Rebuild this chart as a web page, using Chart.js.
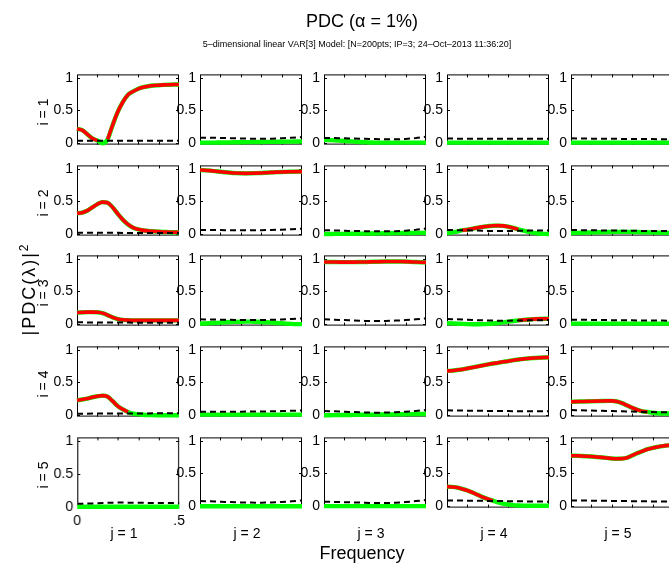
<!DOCTYPE html>
<html>
<head>
<meta charset="utf-8">
<script src="https://cdn.jsdelivr.net/npm/chart.js@4.4.0/dist/chart.umd.min.js"></script>
<style>
  body { margin: 0; width: 669px; height: 563px; overflow: hidden; background: #fff;
         font-family: "Liberation Sans", Arial, Helvetica, sans-serif; position: relative; }
  canvas { position: absolute; }
  .lbl { position: absolute; white-space: nowrap; color: #000; transform: translate(-50%, -50%); line-height: 1; }
  .rot { transform: translate(-50%, -50%) rotate(-90deg); }
</style>
</head>
<body>
<script>
// frequency grid (normalized, 0 .. 0.5)
const freq = [0, .025, .05, .075, .1, .125, .15, .175, .2, .225, .25, .275, .3, .325, .35, .375, .4, .425, .45, .475, .5];

// |PDC|^2 per row i (target), each row holds j = 1..5
const pdcRow1 = [
  [0.22,0.20,0.14,0.075,0.042,0.0,0.06,0.28,0.48,0.63,0.74,0.79,0.83,0.855,0.87,0.88,0.885,0.89,0.893,0.895,0.897],
  [0.01,0.01,0.01,0.01,0.012,0.013,0.014,0.015,0.016,0.017,0.018,0.019,0.02,0.021,0.022,0.023,0.024,0.025,0.026,0.027,0.028],
  [0.05,0.048,0.045,0.04,0.035,0.03,0.025,0.02,0.016,0.013,0.01,0.01,0.01,0.01,0.01,0.01,0.01,0.01,0.01,0.01,0.01],
  [0.01,0.01,0.01,0.01,0.01,0.01,0.01,0.01,0.01,0.01,0.01,0.01,0.01,0.01,0.01,0.01,0.01,0.01,0.01,0.01,0.01],
  [0.01,0.01,0.01,0.01,0.01,0.01,0.01,0.01,0.01,0.01,0.01,0.01,0.01,0.01,0.01,0.01,0.01,0.01,0.01,0.01,0.01]
];
const pdcRow2 = [
  [0.32,0.33,0.36,0.41,0.46,0.49,0.48,0.41,0.31,0.22,0.15,0.10,0.075,0.06,0.05,0.045,0.04,0.035,0.033,0.03,0.03],
  [0.98,0.975,0.97,0.962,0.953,0.945,0.938,0.933,0.93,0.929,0.93,0.932,0.935,0.939,0.943,0.947,0.95,0.952,0.954,0.955,0.955],
  [0.005,0.005,0.006,0.006,0.007,0.008,0.009,0.01,0.011,0.012,0.013,0.014,0.015,0.016,0.017,0.018,0.019,0.02,0.021,0.022,0.023],
  [0.02,0.028,0.04,0.063,0.07,0.086,0.10,0.113,0.123,0.13,0.132,0.128,0.115,0.097,0.075,0.055,0.037,0.022,0.012,0.006,0.003],
  [0.02,0.022,0.024,0.026,0.028,0.03,0.032,0.034,0.036,0.037,0.038,0.037,0.036,0.034,0.032,0.03,0.028,0.026,0.024,0.022,0.02]
];
const pdcRow3 = [
  [0.18,0.182,0.185,0.186,0.183,0.17,0.14,0.105,0.08,0.068,0.063,0.06,0.06,0.06,0.06,0.06,0.06,0.06,0.06,0.06,0.06],
  [0.01,0.013,0.017,0.021,0.025,0.03,0.034,0.037,0.039,0.04,0.04,0.038,0.035,0.03,0.025,0.02,0.015,0.01,0.006,0.003,0.002],
  [0.95,0.95,0.949,0.948,0.948,0.948,0.948,0.949,0.95,0.951,0.953,0.955,0.957,0.958,0.958,0.957,0.955,0.952,0.949,0.946,0.943],
  [0.018,0.014,0.01,0.006,0.003,0.001,0.0,0.002,0.006,0.012,0.02,0.03,0.04,0.05,0.06,0.068,0.074,0.079,0.082,0.084,0.085],
  [0.01,0.01,0.01,0.01,0.01,0.01,0.01,0.01,0.01,0.01,0.01,0.01,0.01,0.01,0.01,0.01,0.01,0.01,0.01,0.01,0.01]
];
const pdcRow4 = [
  [0.23,0.24,0.255,0.275,0.29,0.30,0.285,0.215,0.14,0.09,0.05,0.025,0.015,0.008,0.004,0.002,0.001,0,0,0,0],
  [0.01,0.01,0.01,0.01,0.01,0.01,0.01,0.01,0.01,0.01,0.01,0.01,0.01,0.01,0.01,0.01,0.01,0.01,0.01,0.01,0.01],
  [0,0.001,0.002,0.003,0.004,0.005,0.006,0.007,0.008,0.009,0.01,0.011,0.012,0.013,0.014,0.015,0.016,0.017,0.018,0.019,0.02],
  [0.675,0.68,0.69,0.70,0.715,0.73,0.745,0.76,0.775,0.79,0.80,0.815,0.825,0.84,0.85,0.86,0.867,0.873,0.878,0.88,0.882],
  [0.207,0.208,0.21,0.212,0.214,0.216,0.218,0.22,0.22,0.21,0.185,0.15,0.115,0.085,0.06,0.052,0.038,0.03,0.028,0.027,0.027]
];
const pdcRow5 = [
  [0,0,0,0,0,0,0,0,0,0,0,0,0,0,0,0,0,0,0,0,0],
  [0,0,0,0,0,0,0,0,0,0,0,0,0,0,0,0,0,0,0,0,0],
  [0.003,0.003,0.003,0.003,0.003,0.003,0.003,0.003,0.003,0.003,0.003,0.003,0.003,0.003,0.003,0.003,0.003,0.003,0.003,0.003,0.003],
  [0.30,0.295,0.285,0.265,0.24,0.21,0.175,0.14,0.11,0.085,0.06,0.04,0.027,0.018,0.013,0.01,0.009,0.009,0.009,0.009,0.009],
  [0.77,0.77,0.767,0.763,0.758,0.752,0.745,0.737,0.729,0.725,0.727,0.74,0.775,0.81,0.84,0.87,0.89,0.905,0.918,0.928,0.935]
];

// asymptotic threshold (alpha = 1%), dashed line
const thrRow1 = [
  [0.04,0.04,0.04,0.04,0.04,0.04,0.04,0.04,0.04,0.04,0.04,0.04,0.04,0.04,0.04,0.04,0.04,0.04,0.04,0.04,0.04],
  [0.085,0.085,0.084,0.083,0.082,0.08,0.078,0.076,0.074,0.072,0.07,0.07,0.07,0.07,0.071,0.073,0.076,0.08,0.085,0.09,0.095],
  [0.08,0.08,0.079,0.078,0.076,0.074,0.072,0.07,0.068,0.066,0.064,0.062,0.06,0.06,0.06,0.062,0.066,0.072,0.08,0.09,0.1],
  [0.072,0.072,0.071,0.07,0.07,0.07,0.07,0.07,0.07,0.07,0.07,0.07,0.07,0.07,0.07,0.07,0.07,0.07,0.07,0.071,0.071],
  [0.075,0.074,0.073,0.072,0.071,0.07,0.07,0.069,0.068,0.068,0.067,0.066,0.066,0.065,0.065,0.064,0.064,0.063,0.063,0.062,0.062]
];
const thrRow2 = [
  [0.025,0.025,0.024,0.024,0.023,0.023,0.022,0.022,0.022,0.021,0.021,0.021,0.02,0.02,0.02,0.02,0.02,0.02,0.02,0.02,0.02],
  [0.065,0.065,0.065,0.064,0.064,0.063,0.063,0.063,0.062,0.062,0.062,0.062,0.063,0.064,0.066,0.068,0.071,0.074,0.078,0.082,0.085],
  [0.062,0.06,0.058,0.056,0.054,0.052,0.05,0.049,0.048,0.047,0.046,0.045,0.045,0.045,0.046,0.05,0.055,0.062,0.07,0.08,0.09],
  [0.065,0.064,0.063,0.062,0.06,0.058,0.056,0.054,0.052,0.051,0.05,0.05,0.051,0.052,0.054,0.055,0.056,0.057,0.058,0.059,0.06],
  [0.065,0.064,0.063,0.062,0.061,0.06,0.059,0.058,0.057,0.056,0.055,0.054,0.053,0.052,0.052,0.051,0.05,0.05,0.05,0.05,0.05]
];
const thrRow3 = [
  [0.03,0.03,0.029,0.029,0.028,0.028,0.027,0.027,0.026,0.026,0.026,0.025,0.025,0.025,0.025,0.025,0.025,0.025,0.025,0.025,0.025],
  [0.075,0.074,0.073,0.072,0.07,0.069,0.068,0.067,0.066,0.065,0.065,0.065,0.065,0.066,0.068,0.07,0.073,0.077,0.081,0.085,0.09],
  [0.075,0.073,0.07,0.067,0.064,0.06,0.057,0.054,0.052,0.05,0.05,0.05,0.051,0.053,0.056,0.06,0.065,0.07,0.076,0.083,0.09],
  [0.08,0.078,0.075,0.072,0.069,0.066,0.063,0.06,0.058,0.056,0.055,0.055,0.055,0.056,0.057,0.058,0.06,0.061,0.062,0.063,0.065],
  [0.07,0.07,0.069,0.068,0.067,0.066,0.065,0.064,0.063,0.062,0.061,0.06,0.06,0.059,0.058,0.058,0.057,0.056,0.056,0.055,0.055]
];
const thrRow4 = [
  [0.025,0.025,0.025,0.026,0.026,0.026,0.027,0.027,0.027,0.028,0.028,0.028,0.029,0.029,0.029,0.03,0.03,0.03,0.03,0.03,0.03],
  [0.055,0.055,0.055,0.055,0.055,0.055,0.055,0.055,0.055,0.056,0.056,0.057,0.058,0.059,0.06,0.062,0.064,0.066,0.068,0.07,0.072],
  [0.065,0.063,0.061,0.058,0.055,0.052,0.049,0.046,0.043,0.041,0.04,0.04,0.041,0.043,0.046,0.05,0.055,0.06,0.066,0.073,0.08],
  [0.075,0.074,0.073,0.072,0.071,0.07,0.069,0.068,0.067,0.066,0.065,0.064,0.064,0.063,0.063,0.062,0.062,0.061,0.061,0.06,0.06],
  [0.08,0.078,0.076,0.074,0.072,0.07,0.068,0.066,0.064,0.062,0.06,0.058,0.056,0.054,0.052,0.05,0.049,0.048,0.047,0.046,0.045]
];
const thrRow5 = [
  [0.045,0.046,0.048,0.05,0.053,0.056,0.059,0.061,0.062,0.062,0.061,0.06,0.059,0.058,0.057,0.056,0.055,0.055,0.055,0.055,0.055],
  [0.08,0.078,0.076,0.073,0.07,0.067,0.064,0.061,0.059,0.057,0.056,0.055,0.055,0.056,0.058,0.061,0.065,0.07,0.076,0.083,0.09],
  [0.07,0.068,0.066,0.064,0.062,0.06,0.058,0.056,0.054,0.052,0.051,0.05,0.05,0.051,0.054,0.058,0.064,0.071,0.079,0.088,0.097],
  [0.09,0.089,0.088,0.087,0.086,0.085,0.084,0.083,0.082,0.081,0.08,0.079,0.078,0.077,0.076,0.075,0.074,0.073,0.072,0.071,0.07],
  [0.09,0.089,0.088,0.087,0.086,0.085,0.084,0.083,0.082,0.081,0.08,0.079,0.078,0.077,0.076,0.075,0.074,0.073,0.072,0.071,0.07]
];

const rowLabels = ["i = 1", "i = 2", "i = 3", "i = 4", "i = 5"];
const colLabels = ["j = 1", "j = 2", "j = 3", "j = 4", "j = 5"];
const yTicks = [0, 0.5, 1];
const xTickMarks = [0.1, 0.2, 0.3, 0.4];
const xTickLabels = [0, 0.5];

const pdcRows = [pdcRow1, pdcRow2, pdcRow3, pdcRow4, pdcRow5];
const thrRows = [thrRow1, thrRow2, thrRow3, thrRow4, thrRow5];

// layout of the 5x5 axes grid (px)
const colLeft = [77, 200, 324, 447, 571];
const rowTop = [74, 165, 255, 346, 437];
const boxW = 102, boxH = 71;
const yAxisW = 36;
const tickFont = { size: 14, family: '"Liberation Sans", Arial' };

// box + inward ticks, matlab style
const boxPlugin = {
  id: 'mbox',
  beforeDatasetsDraw(chart) {
    const { ctx, chartArea: a, scales: { x, y } } = chart;
    ctx.save();
    ctx.strokeStyle = '#000';
    ctx.lineWidth = 1;
    ctx.strokeRect(a.left + 0.5, a.top + 0.5, a.width - 1, a.height - 1);
    ctx.beginPath();
    xTickMarks.forEach(v => {
      const px = Math.round(x.getPixelForValue(v)) + 0.5;
      ctx.moveTo(px, a.top); ctx.lineTo(px, a.top + 3);
      ctx.moveTo(px, a.bottom); ctx.lineTo(px, a.bottom - 3);
    });
    yTicks.forEach(v => {
      const py = Math.round(y.getPixelForValue(v)) + 0.5;
      ctx.moveTo(a.left, py); ctx.lineTo(a.left + 3, py);
      ctx.moveTo(a.right, py); ctx.lineTo(a.right - 3, py);
    });
    ctx.stroke();
    ctx.restore();
  }
};

function makeLabel(text, x, y, size, rotate) {
  const d = document.createElement('div');
  d.className = 'lbl' + (rotate ? ' rot' : '');
  d.innerHTML = text;
  d.style.left = x + 'px';
  d.style.top = y + 'px';
  d.style.fontSize = size + 'px';
  document.body.appendChild(d);
  return d;
}

function panelConfig(pdc, thr, showX, padBottom, xH) {
  const sig = pdc.map((v, k) => v > thr[k] ? v : null);
  return {
    type: 'line',
    data: {
      labels: freq,
      datasets: [
        { data: freq.map((f, k) => ({ x: f, y: thr[k] })), borderColor: '#000', borderWidth: 2,
          borderDash: [6, 4], pointRadius: 0, order: 0, clip: false },
        { data: freq.map((f, k) => ({ x: f, y: sig[k] })), borderColor: '#ff0000', borderWidth: 3.6,
          pointRadius: 0, order: 1, cubicInterpolationMode: 'monotone', spanGaps: false, clip: false },
        { data: freq.map((f, k) => ({ x: f, y: pdc[k] })), borderColor: '#00ff00', borderWidth: 4.4,
          pointRadius: 0, order: 2, cubicInterpolationMode: 'monotone', clip: false }
      ]
    },
    options: {
      responsive: false,
      maintainAspectRatio: false,
      animation: false,
      devicePixelRatio: 1,
      events: [],
      layout: { padding: { top: 10, bottom: padBottom, left: 0, right: 8 } },
      plugins: { legend: { display: false }, tooltip: { enabled: false } },
      scales: {
        x: {
          type: 'linear', min: 0, max: 0.5, display: showX,
          grid: { display: false, drawTicks: false }, border: { display: false },
          afterBuildTicks: s => { s.ticks = xTickLabels.map(v => ({ value: v })); },
          afterFit: s => { s.height = xH; },
          ticks: { color: '#000', padding: 5, maxRotation: 0, font: tickFont,
                   callback: v => v === 0 ? '0' : '.5' }
        },
        y: {
          type: 'linear', min: -0.02, max: 1.05,
          grid: { display: false, drawTicks: false }, border: { display: false },
          afterBuildTicks: s => { s.ticks = yTicks.map(v => ({ value: v })); },
          afterFit: s => { s.width = yAxisW; },
          ticks: { color: '#000', padding: 4, font: tickFont, callback: v => String(v) }
        }
      }
    },
    plugins: [boxPlugin]
  };
}

function drawPanel(i, j) {
  const pdc = pdcRows[i][j];
  const thr = thrRows[i][j];
  const showX = (i === 4 && j === 0);
  const padBottom = showX ? 4 : 10;
  const xH = showX ? 22 : 0;

  const cv = document.createElement('canvas');
  const w = yAxisW + boxW + 8;
  const h = 10 + boxH + xH + padBottom;
  cv.width = w; cv.height = h;
  document.body.appendChild(cv);

  let chart = new Chart(cv, panelConfig(pdc, thr, showX, padBottom, xH));

  // make the plot box come out at exactly boxW x boxH
  let a = chart.chartArea;
  const dw = boxW - (a.right - a.left), dh = boxH - (a.bottom - a.top);
  if (dw || dh) {
    chart.destroy();
    cv.width = w + dw; cv.height = h + dh;
    cv.style.width = (w + dw) + 'px'; cv.style.height = (h + dh) + 'px';
    chart = new Chart(cv, panelConfig(pdc, thr, showX, padBottom, xH));
    a = chart.chartArea;
  }
  cv.style.left = (colLeft[j] - a.left) + 'px';
  cv.style.top = (rowTop[i] - a.top) + 'px';
}

for (let i = 0; i < 5; i++) {
  for (let j = 0; j < 5; j++) drawPanel(i, j);
}

// titles and axis labels
makeLabel('PDC (&alpha; = 1%)', 362, 21, 18);
makeLabel('5–dimensional linear VAR[3] Model: [N=200pts; IP=3; 24–Oct–2013 11:36:20]', 357, 44, 9);
rowLabels.forEach((t, i) => makeLabel(t, 43, rowTop[i] + boxH / 2 + 2, 14, true));
colLabels.forEach((t, j) => makeLabel(t, colLeft[j] + boxW / 2 - 4, 533, 14));
makeLabel('Frequency', 362, 553, 18);
const yl = makeLabel('|PDC(&lambda;)|<sup style="font-size:12px">2</sup>', 28, 289, 18, true);
yl.style.letterSpacing = '2px';
</script>
</body>
</html>
